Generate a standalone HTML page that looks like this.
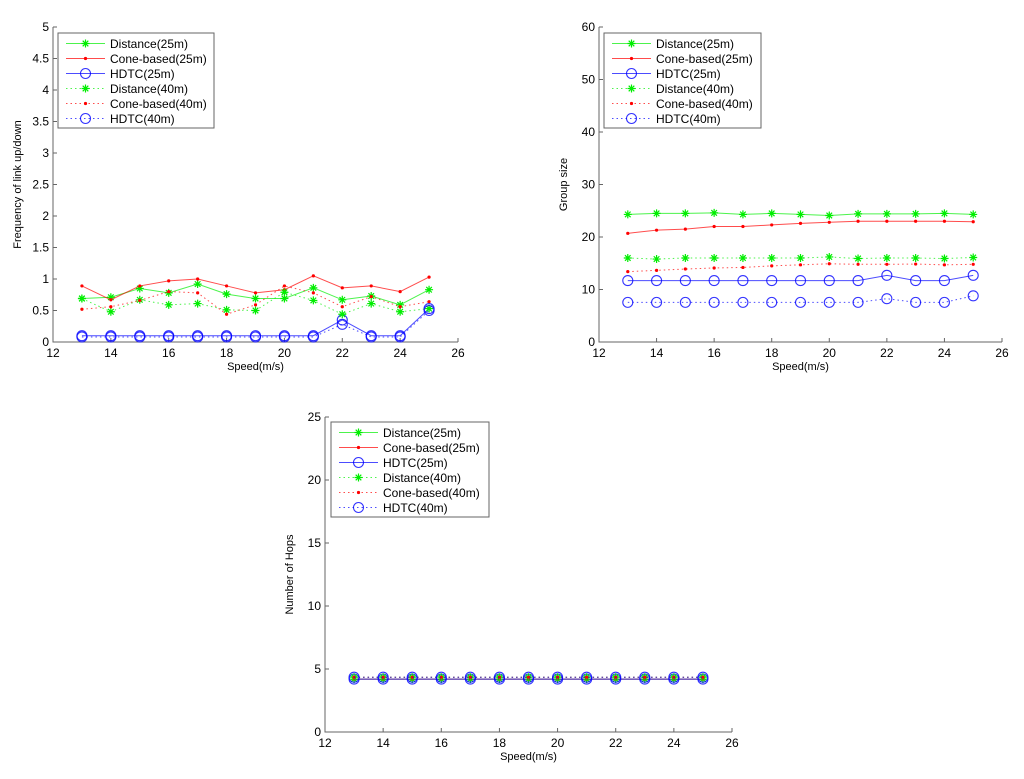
<!DOCTYPE html>
<html><head><meta charset="utf-8"><style>
body{margin:0;background:#fff;}
svg{display:block;font-family:"Liberation Sans",Arial,sans-serif;}
</style></head><body>
<svg id="fig" width="1024" height="779" viewBox="0 0 1024 779" xmlns="http://www.w3.org/2000/svg"></svg>
<script>
const speeds = [13,14,15,16,17,18,19,20,21,22,23,24,25];
const xTicks = [12,14,16,18,20,22,24,26];
// Plot 1: frequency of link up/down
const p1Distance25 = [0.69,0.71,0.85,0.78,0.92,0.76,0.69,0.69,0.86,0.67,0.73,0.59,0.83];
const p1Cone25 = [0.89,0.67,0.89,0.97,1.0,0.89,0.78,0.83,1.05,0.86,0.89,0.80,1.03];
const p1Hdtc25 = [0.1,0.1,0.1,0.1,0.1,0.1,0.1,0.1,0.1,0.35,0.1,0.1,0.53];
const p1Distance40 = [0.69,0.48,0.67,0.59,0.61,0.51,0.50,0.79,0.66,0.44,0.61,0.48,0.53];
const p1Cone40 = [0.52,0.56,0.66,0.80,0.78,0.44,0.59,0.89,0.78,0.56,0.72,0.56,0.64];
const p1Hdtc40 = [0.08,0.08,0.08,0.08,0.08,0.08,0.08,0.08,0.08,0.28,0.08,0.08,0.5];
const p1YTicks = [0,0.5,1,1.5,2,2.5,3,3.5,4,4.5,5];
// Plot 2: group size
const p2Distance25 = [24.3,24.5,24.5,24.6,24.3,24.5,24.3,24.1,24.4,24.4,24.4,24.5,24.3];
const p2Cone25 = [20.7,21.3,21.5,22.0,22.0,22.3,22.6,22.8,23.0,23.0,23.0,23.0,22.9];
const p2Hdtc25 = [11.7,11.7,11.7,11.7,11.7,11.7,11.7,11.7,11.7,12.7,11.7,11.7,12.7];
const p2Distance40 = [16.0,15.8,16.0,16.0,16.0,16.0,16.0,16.2,15.9,16.0,16.0,15.9,16.1];
const p2Cone40 = [13.4,13.65,13.9,14.1,14.2,14.5,14.7,14.9,14.8,14.8,14.85,14.7,14.8];
const p2Hdtc40 = [7.55,7.55,7.55,7.55,7.55,7.55,7.55,7.55,7.55,8.25,7.55,7.55,8.8];
const p2YTicks = [0,10,20,30,40,50,60];
// Plot 3: number of hops
const p3Distance25 = [4.2,4.2,4.2,4.2,4.2,4.2,4.2,4.2,4.2,4.2,4.2,4.2,4.2];
const p3Cone25 = [4.2,4.2,4.2,4.2,4.2,4.2,4.2,4.2,4.2,4.2,4.2,4.2,4.2];
const p3Hdtc25 = [4.2,4.2,4.2,4.2,4.2,4.2,4.2,4.2,4.2,4.2,4.2,4.2,4.2];
const p3Distance40 = [4.35,4.35,4.35,4.35,4.35,4.35,4.35,4.35,4.35,4.35,4.35,4.35,4.35];
const p3Cone40 = [4.35,4.35,4.35,4.35,4.35,4.35,4.35,4.35,4.35,4.35,4.35,4.35,4.35];
const p3Hdtc40 = [4.35,4.35,4.35,4.35,4.35,4.35,4.35,4.35,4.35,4.35,4.35,4.35,4.35];
const p3YTicks = [0,5,10,15,20,25];
const legendLabels = ["Distance(25m)","Cone-based(25m)","HDTC(25m)","Distance(40m)","Cone-based(40m)","HDTC(40m)"];

const NS="http://www.w3.org/2000/svg";
const svg=document.getElementById('fig');
function mk(tag,attrs,parent){const e=document.createElementNS(NS,tag);for(const k in attrs)e.setAttribute(k,attrs[k]);(parent||svg).appendChild(e);return e;}
const styles=[
 {c:'#00ee00',m:'star',dash:null},{c:'#ff0000',m:'dot',dash:null},{c:'#0000ff',m:'circle',dash:null},
 {c:'#00ee00',m:'star',dash:'1.5 3'},{c:'#ff0000',m:'dot',dash:'1.5 3'},{c:'#0000ff',m:'circle',dash:'1.5 3'}];
function marker(g,type,x,y,c){
  if(type==='star'){
    const s=4;
    const p=mk('path',{d:`M${x-s},${y}H${x+s}M${x},${y-s}V${y+s}M${x-s*.7},${y-s*.7}L${x+s*.7},${y+s*.7}M${x-s*.7},${y+s*.7}L${x+s*.7},${y-s*.7}`,stroke:c,'stroke-width':1.2,fill:'none'},g);
    
    
  } else if(type==='dot'){
    const p=mk('circle',{cx:x,cy:y,r:1.6,fill:c},g);
    
    
  } else {
    const p=mk('circle',{cx:x,cy:y,r:5,fill:'none',stroke:c,'stroke-width':1.1,'stroke-opacity':0.8},g);
    
    
  }
}
function plot(name,L,R,T,B,ymax,yTicks,yLabel,series,leg){
  const g=mk('g',{});
  
  
  const xs=v=>L+(v-12)/(26-12)*(R-L);
  const ys=v=>B-v/ymax*(B-T);
  const ax=mk('path',{d:`M${L},${T}V${B}H${R}`,stroke:'#666','stroke-width':1,fill:'none'},g);
  
  
  xTicks.forEach(t=>{
    const x=xs(t);
    mk('line',{x1:x,x2:x,y1:B,y2:B-4,stroke:'#666'},g);
    const tx=mk('text',{x:x,y:B+15,'font-size':12,'text-anchor':'middle',fill:'#000'},g);
    tx.textContent=t;
    
    
  });
  yTicks.forEach(t=>{
    const y=ys(t);
    mk('line',{x1:L,x2:L+4,y1:y,y2:y,stroke:'#666'},g);
    const tx=mk('text',{x:L-4,y:y+4,'font-size':12,'text-anchor':'end',fill:'#000'},g);
    tx.textContent=t;
    
    
  });
  const xl=mk('text',{x:(L+R)/2,y:B+28,'font-size':11,'text-anchor':'middle'},g);
  xl.textContent='Speed(m/s)';
  
  
  const yx=L-32,yy=(T+B)/2;
  const yl=mk('text',{x:yx,y:yy,'font-size':11,'text-anchor':'middle',transform:`rotate(-90 ${yx} ${yy})`},g);
  yl.textContent=yLabel;
  
  
  series.forEach((vals,i)=>{
    const st=styles[i];
    const sg=mk('g',{},g);
    
    
    const pts=vals.map((v,j)=>xs(speeds[j])+','+ys(v)).join(' ');
    const pl=mk('polyline',{points:pts,fill:'none',stroke:st.c,'stroke-width':1,'stroke-opacity':0.7},sg);
    if(st.dash)pl.setAttribute('stroke-dasharray',st.dash);
    vals.forEach((v,j)=>marker(sg,st.m,xs(speeds[j]),ys(v),st.c));
  });
  // legend
  const lg=mk('g',{},g);
  
  
  mk('rect',{x:leg[0],y:leg[1],width:leg[2],height:95,fill:'#fff',stroke:'#666','stroke-width':1},lg);
  legendLabels.forEach((lab,i)=>{
    const st=styles[i];const y=leg[1]+10.5+i*15;
    const le=mk('g',{},lg);
    
    
    const ln=mk('line',{x1:leg[0]+8,x2:leg[0]+47,y1:y,y2:y,stroke:st.c,'stroke-width':1,'stroke-opacity':0.7},le);
    if(st.dash)ln.setAttribute('stroke-dasharray',st.dash);
    marker(le,st.m,leg[0]+27.5,y,st.c);
    const t=mk('text',{x:leg[0]+52,y:y+4.5,'font-size':12},le);
    t.textContent=lab;
  });
}
plot('chart-link-frequency',53,458,27,342,5,p1YTicks,'Frequency of link up/down',
 [p1Distance25,p1Cone25,p1Hdtc25,p1Distance40,p1Cone40,p1Hdtc40],[58,33,156]);
plot('chart-group-size',599,1002,27,342,60,p2YTicks,'Group size',
 [p2Distance25,p2Cone25,p2Hdtc25,p2Distance40,p2Cone40,p2Hdtc40],[604,33,157]);
plot('chart-number-of-hops',325,732,417,732,25,p3YTicks,'Number of Hops',
 [p3Distance25,p3Cone25,p3Hdtc25,p3Distance40,p3Cone40,p3Hdtc40],[331,422,158]);
</script>
</body></html>
